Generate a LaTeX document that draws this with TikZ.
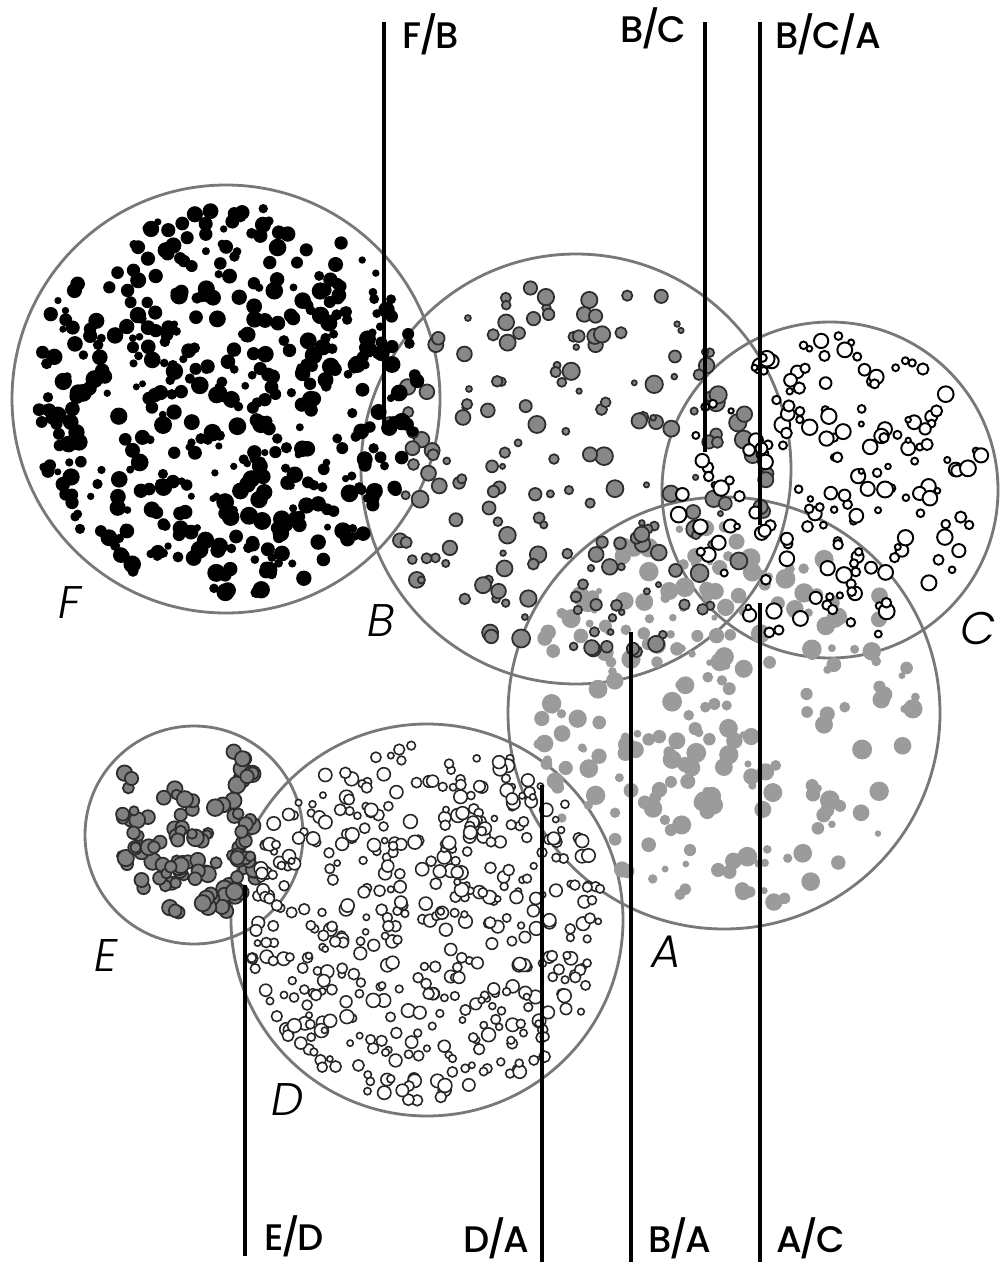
\documentclass[tikz,border=0pt]{standalone}
\usepackage{fontspec}
\setsansfont{Poppins}
\newfontfamily\tagfont{Poppins Medium}
\newfontfamily\setfont{Poppins Light Italic}
\usetikzlibrary{positioning}
\definecolor{ringcol}{RGB}{120,120,120}
\definecolor{bcol}{RGB}{135,135,135}
\definecolor{acol}{RGB}{155,155,155}
\definecolor{ecol}{RGB}{128,128,128}
\definecolor{edgecol}{RGB}{45,45,45}
\newcommand\slsh{\kern-0.07em/\kern-0.07em}
% scatter #4 dots of style #7 in a disc at (#1,#2) of radius #3, sizes #5..#6
\newcommand\sprinkle[7]{%
  \foreach \k in {1,...,#4}{%
    \pgfmathsetmacro\ang{360*rnd}%
    \pgfmathsetmacro\rad{#3*sqrt(rnd)}%
    \pgfmathsetmacro\px{#1+\rad*cos(\ang)}%
    \pgfmathsetmacro\py{#2+\rad*sin(\ang)}%
    \pgfmathsetlengthmacro\sz{(#5+(#6-#5)*rnd)*0.1mm}%
    \path[#7] (\px,\py) circle[radius=\sz];}}

\begin{document}
\begin{tikzpicture}[x=0.1mm,y=-0.1mm,
  ring/.style={circle,draw=ringcol,line width=0.8pt,inner sep=0pt},
  fdot/.style={fill=black},
  bdot/.style={fill=bcol,draw=edgecol,line width=0.5pt},
  cdot/.style={fill=white,draw=black,line width=0.55pt},
  adot/.style={fill=acol},
  edot/.style={fill=ecol,draw=edgecol,line width=0.5pt},
  ddot/.style={fill=white,draw=black!85,line width=0.45pt},
  cut/.style={line width=1.2pt},
  tag/.style={font=\tagfont\fontsize{10.5}{12}\selectfont,inner sep=0pt},
  setname/.style={font=\setfont\fontsize{13}{15}\selectfont,inner sep=0pt}]
  \useasboundingbox (0,0) rectangle (1000,1263);
  \pgfmathsetseed{4217}

  % the six sets
  \node[ring,minimum size=42.8mm] (F) at (226,399) {};
  \node[ring,minimum size=43mm] (B) at (576,469) {};
  \node[ring,minimum size=33.6mm] (C) at (830,490) {};
  \node[ring,minimum size=43.2mm] (A) at (724,713) {};
  \node[ring,minimum size=21.8mm] (E) at (194,835) {};
  \node[ring,minimum size=39.2mm] (D) at (427,920) {};

  % their members
  \sprinkle{724}{713}{196}{240}{3}{10}{adot}
  \sprinkle{576}{469}{195}{190}{2.5}{9}{bdot}
  \sprinkle{226}{399}{196}{480}{3.5}{9}{fdot}
  \foreach \c in {1,...,40}{
    \pgfmathsetmacro\ex{194+80*sqrt(rnd)*cos(360*rnd)}
    \pgfmathsetmacro\ey{835+80*sqrt(rnd)*sin(360*rnd)}
    \sprinkle{\ex}{\ey}{10}{3}{4.5}{8.5}{edot}}
  \sprinkle{427}{920}{182}{460}{3}{7}{ddot}
  \sprinkle{830}{490}{155}{175}{2.5}{8}{cdot}

  \node[setname] (Fname) at (70,603) {F};
  \node[setname] (Bname) at (381,621) {B};
  \node[setname] (Cname) at (978,628) {C};
  \node[setname] (Aname) at (666,952) {A};
  \node[setname] (Ename) at (106,955) {E};
  \node[setname] (Dname) at (288,1100) {D};

  % cuts through the overlaps
  \coordinate (fbtop) at (384,22);   \coordinate (fbend) at (384,432);
  \coordinate (bctop) at (705,22);   \coordinate (bcend) at (705,452);
  \coordinate (bcatop) at (760,22);  \coordinate (bcaend) at (760,525);
  \coordinate (edtop) at (245,885);  \coordinate (edend) at (245,1256);
  \coordinate (datop) at (542,785);  \coordinate (daend) at (542,1262);
  \coordinate (batop) at (631,632);  \coordinate (baend) at (631,1262);
  \coordinate (actop) at (760,603);  \coordinate (acend) at (760,1262);
  \foreach \p in {fb,bc,bca,ed,da,ba,ac}{\draw[cut] (\p top) -- (\p end);}

  \node[tag,anchor=base west] (fb) at (402,48) {F\slsh B};
  \node[tag,anchor=base east] (bc) at (687,42) {B\slsh C};
  \node[tag,anchor=base west] (bca) at (775,48) {B\slsh C\slsh A};
  \node[tag,anchor=base west] (ed) at (264,1250) {E\slsh D};
  \node[tag,anchor=base east] (da) at (530,1252) {D\slsh A};
  \node[tag,anchor=base west] (ba) at (648,1252) {B\slsh A};
  \node[tag,anchor=base west] (ac) at (776,1252) {A\slsh C};
\end{tikzpicture}
\end{document}
